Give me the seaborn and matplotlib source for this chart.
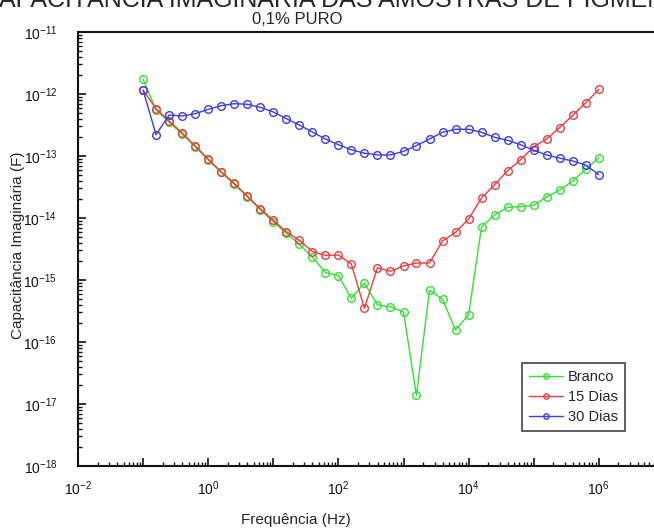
import matplotlib
matplotlib.use("Agg")
import numpy as np
import pandas as pd
import matplotlib.pyplot as plt
import seaborn as sns
from matplotlib.ticker import LogLocator, FuncFormatter, NullFormatter

# ---- data ----
freq_hz = [0.1, 0.158, 0.251, 0.398, 0.631, 1.0, 1.58, 2.51, 3.98, 6.31,
           10.0, 15.8, 25.1, 39.8, 63.1, 100.0, 158.0, 251.0, 398.0, 631.0,
           1.0e3, 1.58e3, 2.51e3, 3.98e3, 6.31e3, 1.0e4, 1.58e4, 2.51e4, 3.98e4, 6.31e4,
           1.0e5, 1.58e5, 2.51e5, 3.98e5, 6.31e5, 1.0e6]

branco = [1.73e-12, 5.52e-13, 3.50e-13, 2.26e-13, 1.41e-13, 8.62e-14, 5.46e-14, 3.50e-14, 2.21e-14, 1.36e-14,
          8.71e-15, 5.66e-15, 3.77e-15, 2.35e-15, 1.32e-15, 1.18e-15, 5.07e-16, 8.95e-16, 3.95e-16, 3.71e-16,
          3.05e-16, 1.38e-17, 6.82e-16, 4.89e-16, 1.56e-16, 2.75e-16, 7.16e-15, 1.12e-14, 1.49e-14, 1.52e-14,
          1.60e-14, 2.18e-14, 2.83e-14, 3.95e-14, 6.10e-14, 9.39e-14]

dias15 = [1.15e-12, 5.79e-13, 3.67e-13, 2.35e-13, 1.45e-13, 8.95e-14, 5.58e-14, 3.63e-14, 2.26e-14, 1.41e-14,
          9.18e-15, 6.01e-15, 4.37e-15, 2.88e-15, 2.50e-15, 2.53e-15, 1.81e-15, 3.50e-16, 1.58e-15, 1.38e-15,
          1.68e-15, 1.88e-15, 1.88e-15, 4.26e-15, 5.88e-15, 9.64e-15, 2.10e-14, 3.44e-14, 5.79e-14, 8.71e-14,
          1.41e-13, 1.88e-13, 2.88e-13, 4.53e-13, 7.21e-13, 1.19e-12]

dias30 = [1.15e-12, 2.21e-13, 4.58e-13, 4.42e-13, 4.81e-13, 5.66e-13, 6.48e-13, 6.98e-13, 6.83e-13, 6.10e-13,
          5.13e-13, 4.00e-13, 3.16e-13, 2.44e-13, 1.88e-13, 1.52e-13, 1.26e-13, 1.11e-13, 1.04e-13, 1.04e-13,
          1.19e-13, 1.47e-13, 1.88e-13, 2.41e-13, 2.70e-13, 2.70e-13, 2.41e-13, 2.00e-13, 1.79e-13, 1.52e-13,
          1.24e-13, 1.04e-13, 9.23e-14, 8.30e-14, 7.16e-14, 4.99e-14]

series_names = ["Branco", "15 Dias", "30 Dias"]
series_values = [branco, dias15, dias30]
series_colors = ["#33e033", "#f03c3c", "#3c3cf0"]

title_top = "CAPACITÂNCIA IMAGINÁRIA DAS AMOSTRAS DE PIGMENTO"
title_sub = "0,1% PURO"
x_label = "Frequência (Hz)"
y_label = "Capacitância Imaginária (F)"

# ---- style ----
sns.set_style("white")
plt.rcParams["font.family"] = ["Liberation Sans", "DejaVu Sans"]
plt.rcParams["mathtext.fontset"] = "custom"
plt.rcParams["mathtext.rm"] = "Liberation Sans"
plt.rcParams["mathtext.it"] = "Liberation Sans"

W, H = 654, 529
fig = plt.figure(figsize=(W / 100, H / 100), dpi=100)
ax = fig.add_axes([78 / W, (H - 466) / H, 651 / W, 434 / H])

for name, vals, col in zip(series_names, series_values, series_colors):
    sns.lineplot(x=freq_hz, y=vals, ax=ax, color=col, marker="o", mfc="none",
                 mec=col, mew=1.0, ms=5.5, lw=1.0, label=name, sort=False,
                 estimator=None)

ax.set_xscale("log")
ax.set_yscale("log")
ax.set_xlim(1e-2, 1e8)
ax.set_ylim(1e-18, 1e-11)

ax.xaxis.set_major_locator(LogLocator(base=10, numticks=30))
ax.yaxis.set_major_locator(LogLocator(base=10, numticks=30))
ax.xaxis.set_minor_locator(LogLocator(base=10, subs=np.arange(2, 10), numticks=200))
ax.yaxis.set_minor_locator(LogLocator(base=10, subs=np.arange(2, 10), numticks=200))
ax.xaxis.set_minor_formatter(NullFormatter())
ax.yaxis.set_minor_formatter(NullFormatter())


def xfmt(v, pos):
    e = int(round(np.log10(v)))
    return r"$10^{%d}$" % e if (e % 2 == 0 and -2 <= e <= 6) else ""


def yfmt(v, pos):
    e = int(round(np.log10(v)))
    return r"$10^{%d}$" % e if -18 <= e <= -11 else ""


ax.xaxis.set_major_formatter(FuncFormatter(xfmt))
ax.yaxis.set_major_formatter(FuncFormatter(yfmt))

ax.tick_params(axis="both", which="major", direction="in", length=6, width=1.2,
               labelsize=10, colors="#111111")
ax.tick_params(axis="both", which="minor", direction="in", length=3, width=1.0,
               colors="#111111")
ax.tick_params(axis="x", which="both", bottom=True, top=False, pad=10)
ax.tick_params(axis="y", which="both", left=True, right=False, pad=15)

for s in ax.spines.values():
    s.set_linewidth(1.5)
    s.set_color("#111111")

ax.set_xlabel("")
ax.set_ylabel("")
fig.text(296 / W, 1 - 520 / H, x_label, ha="center", va="center", fontsize=11)
fig.text(18 / W, 1 - 245 / H, y_label, ha="center", va="center", fontsize=11,
         rotation=90)
fig.text(297 / W, 1 - 20 / H, title_sub, ha="center", va="center", fontsize=12)
fig.text(-19 / W, 1 - 7 / H, title_top, ha="left", va="baseline", fontsize=18)

leg = ax.legend(loc="upper left", bbox_to_anchor=(522 / W, 1 - 363 / H),
                bbox_transform=fig.transFigure, frameon=True, fancybox=False,
                framealpha=1, edgecolor="#444444", fontsize=10.5,
                handlelength=2.3, handletextpad=0.35, labelspacing=0.4,
                borderpad=0.5, borderaxespad=0, markerscale=0.7)
leg.get_frame().set_linewidth(1.2)

fig.savefig("out.png", dpi=100)
